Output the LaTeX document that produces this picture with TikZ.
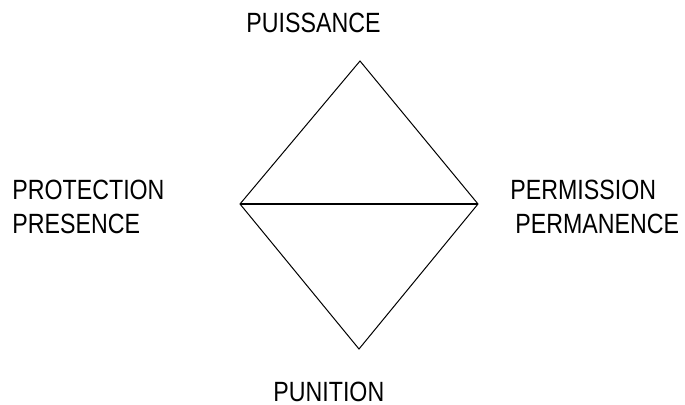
\documentclass[tikz,border=0pt]{standalone}
\usepackage{fontspec}
\setmainfont{Liberation Sans}
\usetikzlibrary{positioning}

\begin{document}
\begin{tikzpicture}[
    x=0.5pt, y=-0.5pt,
    font=\fontsize{11.6}{14}\selectfont,
    lbl/.style={anchor=base west, inner sep=0pt, yscale=1.2, transform shape},
    edge/.style={draw=black, line width=0.5pt, line join=miter},
    axis/.style={draw=black, line width=1.1pt},
  ]
    \useasboundingbox (0,0) rectangle (685,405);
    % corners of the diamond
    \coordinate (top) at (360,61);
    \coordinate (rgt) at (478,204);
    \coordinate (bot) at (359,349);
    \coordinate (lft) at (240,204);
    \draw[edge] (top) -- (rgt) -- (bot) -- (lft) -- cycle;
    \draw[axis] (lft) -- (rgt);
    % labels
    \node[lbl] (puis) at (246,33) {PUISSANCE};
    \node[lbl] (prot) at (12,200) {PROTECTION};
    \node[lbl] (pres) at (12,234) {PRESENCE};
    \node[lbl] (perm) at (510,200) {PERMISSION};
    \node[lbl] (perma) at (515,234) {PERMANENCE};
    \node[lbl] (puni) at (273,401) {PUNITION};
\end{tikzpicture}
\end{document}
